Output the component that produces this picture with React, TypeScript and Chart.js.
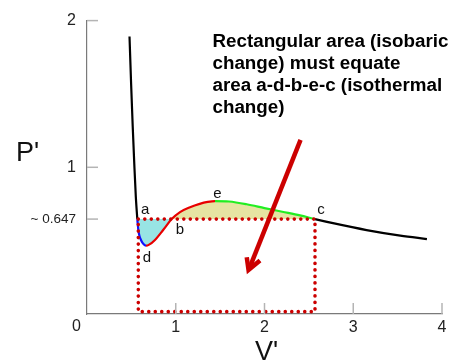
import { useEffect, useRef } from 'react';
import { Chart, registerables } from 'chart.js';

Chart.register(...registerables);

// ---- data (reduced van der Waals isotherm with Maxwell construction) ----
const maxwellPressure = 0.647;

const leftBranchV = [0.479, 0.497, 0.515, 0.533, 0.55, 0.567];
const leftBranchP = [1.892, 1.57, 1.28, 1.02, 0.8, 0.647];

const blueV = [0.567, 0.572, 0.58, 0.592, 0.608, 0.63, 0.65, 0.665];
const blueP = [0.647, 0.61, 0.565, 0.53, 0.505, 0.482, 0.47, 0.466];

const redV = [0.665, 0.7, 0.766, 0.86, 0.954, 1.048, 1.161, 1.27, 1.36, 1.442];
const redP = [0.466, 0.473, 0.505, 0.574, 0.647, 0.695, 0.728, 0.751, 0.764, 0.77];

const greenV = [1.442, 1.6, 1.8, 2.0, 2.2, 2.4, 2.569];
const greenP = [0.77, 0.767, 0.748, 0.722, 0.697, 0.672, 0.647];

const rightBranchV = [2.569, 2.772, 3.15, 3.53, 3.83];
const rightBranchP = [0.647, 0.619, 0.572, 0.534, 0.511];

const rectV = [0.578, 2.569, 2.569, 0.578, 0.578];
const rectP = [0.647, 0.647, 0.016, 0.016, 0.647];

const arrowShaftV = [2.406, 1.835];
const arrowShaftP = [1.187, 0.32];
const arrowHeadV = [1.8, 1.82, 1.949];
const arrowHeadP = [0.387, 0.3, 0.365];

const yTickValues = [0.647, 1, 2];
const yTickLabels = ['~ 0.647', '1', '2'];
const xTickValues = [0, 1, 2, 3, 4];
const xTickLabels = ['0', '1', '2', '3', '4'];

const pointLabels = ['a', 'b', 'c', 'd', 'e'];
const pointLabelV = [0.656, 1.048, 2.637, 0.676, 1.47];
const pointLabelP = [0.68, 0.545, 0.68, 0.353, 0.793];

const noteLines = [
  'Rectangular area (isobaric',
  'change) must equate',
  'area a-d-b-e-c (isothermal',
  'change)',
];

// ---- helpers ----
const zip = (xs: number[], ys: number[]) => xs.map((x, i) => ({ x, y: ys[i] }));

const FONT = '"Liberation Sans", Arial, sans-serif';

const BLACK = '#000000';
const BLUE = '#1010ff';
const RED = '#e80000';
const GREEN = '#22ee22';
const DOT_RED = '#cc0000';

const segArrays = [
  { v: leftBranchV, p: leftBranchP, color: BLACK },
  { v: blueV, p: blueP, color: BLUE },
  { v: redV, p: redP, color: RED },
  { v: greenV, p: greenP, color: GREEN },
  { v: rightBranchV, p: rightBranchP, color: BLACK },
];

const curvePoints: { x: number; y: number }[] = [];
const curveColors: string[] = []; // colour of segment ending at index i
segArrays.forEach((s, si) => {
  s.v.forEach((v, i) => {
    if (si > 0 && i === 0) return;
    curvePoints.push({ x: v, y: s.p[i] });
    curveColors.push(s.color);
  });
});

const bIndex = redV.indexOf(0.954);
const cyanPoints = [...zip(blueV, blueP), ...zip(redV, redP).slice(1, bIndex + 1)];
const yellowPoints = [...zip(redV, redP).slice(bIndex), ...zip(greenV, greenP).slice(1)];

const overlayPlugin = {
  id: 'overlay',
  afterDraw(chart: any) {
    const { ctx, chartArea, scales } = chart;
    const x = scales.x;
    const y = scales.y;
    ctx.save();
    // inner tick marks
    ctx.strokeStyle = '#b4b4b4';
    ctx.lineWidth = 1.5;
    yTickValues.forEach((v) => {
      const py = y.getPixelForValue(v);
      ctx.beginPath();
      ctx.moveTo(chartArea.left, py);
      ctx.lineTo(chartArea.left + 11, py);
      ctx.stroke();
    });
    xTickValues.slice(1).forEach((v) => {
      const px = x.getPixelForValue(v);
      ctx.beginPath();
      ctx.moveTo(px, chartArea.bottom);
      ctx.lineTo(px, chartArea.bottom - 11);
      ctx.stroke();
    });
    // origin label
    ctx.fillStyle = '#222';
    ctx.font = `16px ${FONT}`;
    ctx.textAlign = 'center';
    ctx.textBaseline = 'middle';
    ctx.fillText(xTickLabels[0], x.getPixelForValue(0) - 10.5, chartArea.bottom + 13);
    // axis titles
    ctx.font = `27px ${FONT}`;
    ctx.textAlign = 'left';
    ctx.textBaseline = 'alphabetic';
    ctx.fillStyle = '#111';
    ctx.fillText("P'", 16, 160.7);
    ctx.fillText("V'", 255, 360);
    // point labels
    ctx.font = `15px ${FONT}`;
    ctx.textAlign = 'center';
    pointLabels.forEach((t, i) => {
      ctx.fillText(t, x.getPixelForValue(pointLabelV[i]), y.getPixelForValue(pointLabelP[i]));
    });
    // note
    ctx.font = `bold 18.8px ${FONT}`;
    ctx.textAlign = 'left';
    ctx.fillStyle = '#000';
    const nx = x.getPixelForValue(1.414);
    noteLines.forEach((line, i) => {
      ctx.fillText(line, nx, 46.5 + i * 22);
    });
    ctx.restore();
  },
};

export default function App() {
  const ref = useRef<HTMLCanvasElement | null>(null);
  useEffect(() => {
    if (!ref.current) return;
    const chart = new Chart(ref.current, {
      type: 'line',
      data: {
        datasets: [
          {
            data: [...zip(arrowShaftV, arrowShaftP)],
            borderColor: DOT_RED,
            borderWidth: 4.5,
            pointRadius: 0,
            tension: 0,
            fill: false,
            borderCapStyle: 'butt',
          } as any,
          {
            data: zip(arrowHeadV, arrowHeadP),
            borderColor: DOT_RED,
            borderWidth: 4.5,
            pointRadius: 0,
            tension: 0,
            fill: false,
            borderJoinStyle: 'miter',
          } as any,
          {
            data: zip(rectV, rectP),
            borderColor: DOT_RED,
            borderWidth: 3.6,
            borderDash: [0, 6.5],
            borderCapStyle: 'round',
            pointRadius: 0,
            tension: 0,
            fill: false,
          } as any,
          {
            data: curvePoints,
            borderColor: BLACK,
            borderWidth: 2.2,
            pointRadius: 0,
            cubicInterpolationMode: 'monotone',
            fill: false,
            segment: {
              borderColor: (c: any) => curveColors[c.p1DataIndex],
            },
          } as any,
          {
            data: cyanPoints,
            borderWidth: 0,
            borderColor: 'rgba(0,0,0,0)',
            backgroundColor: '#98e4e4',
            pointRadius: 0,
            cubicInterpolationMode: 'monotone',
            fill: { value: maxwellPressure },
          } as any,
          {
            data: yellowPoints,
            borderWidth: 0,
            borderColor: 'rgba(0,0,0,0)',
            backgroundColor: '#e6e4a2',
            pointRadius: 0,
            cubicInterpolationMode: 'monotone',
            fill: { value: maxwellPressure },
          } as any,
        ],
      },
      options: {
        animation: false,
        responsive: false,
        events: [],
        layout: { padding: { top: 18, right: 21, left: 0, bottom: 0 } },
        plugins: { legend: { display: false }, tooltip: { enabled: false } },
        scales: {
          x: {
            type: 'linear',
            min: 0,
            max: 4,
            afterFit: (s: any) => {
              s.height = 47;
            },
            afterBuildTicks: (s: any) => {
              s.ticks = xTickValues.map((v) => ({ value: v }));
            },
            ticks: {
              autoSkip: false,
              maxRotation: 0,
              padding: 4,
              color: '#222',
              font: { family: FONT, size: 16 },
              callback: (v: any) => {
                const i = xTickValues.indexOf(Number(v));
                return i <= 0 ? '' : xTickLabels[i];
              },
            },
            grid: { drawOnChartArea: false, drawTicks: false },
            border: { color: '#7a7a7a', width: 1.2 },
          },
          y: {
            type: 'linear',
            min: 0,
            max: 2,
            afterFit: (s: any) => {
              s.width = 87;
            },
            afterBuildTicks: (s: any) => {
              s.ticks = yTickValues.map((v) => ({ value: v }));
            },
            ticks: {
              autoSkip: false,
              padding: 11,
              color: '#222',
              font: (c: any) => ({
                family: FONT,
                size: c.tick && c.tick.value === 0.647 ? 13.5 : 16,
              }),
              callback: (v: any) => {
                const i = yTickValues.indexOf(Number(v));
                return i < 0 ? '' : yTickLabels[i];
              },
            },
            grid: { drawOnChartArea: false, drawTicks: false },
            border: { color: '#7a7a7a', width: 1.2 },
          },
        },
      } as any,
      plugins: [overlayPlugin],
    });
    return () => chart.destroy();
  }, []);
  return (
    <canvas
      ref={ref}
      width={463}
      height={361}
      style={{ position: 'fixed', left: 0, top: 0, width: 463, height: 361, display: 'block' }}
    />
  );
}
